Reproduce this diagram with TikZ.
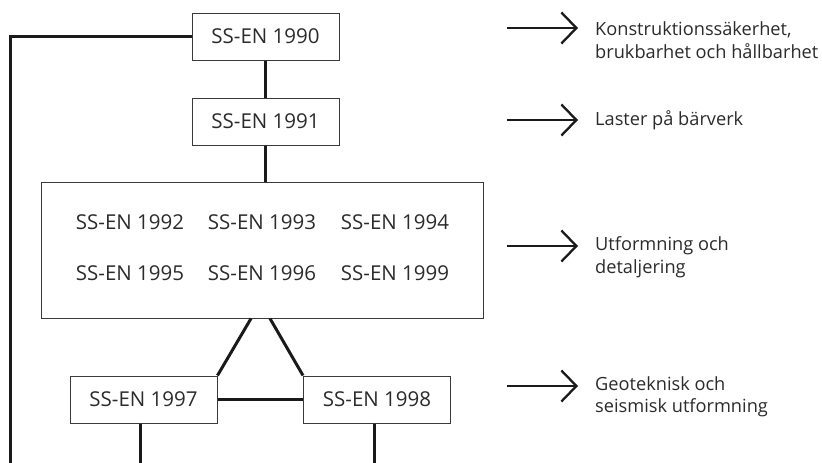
\documentclass[tikz,border=0pt]{standalone}
\usepackage{fontspec}
\setmainfont{Open Sans}
\usetikzlibrary{arrows.meta}
\definecolor{txtc}{HTML}{2B2B2B}
\definecolor{boxc}{HTML}{3A3A3A}
\definecolor{linec}{HTML}{1A1A1A}
\begin{document}
\begin{tikzpicture}[x=1pt,y=-1pt,
  box/.style={draw=boxc, line width=1pt, minimum width=147pt, minimum height=47pt, inner sep=0pt, text=txtc, font=\fontsize{20.5}{24}\selectfont},
  bigbox/.style={draw=boxc, line width=1pt, minimum width=442pt, minimum height=136pt, inner sep=0pt},
  code/.style={inner sep=0pt, text=txtc, font=\fontsize{20.5}{24}\selectfont},
  conn/.style={line width=3pt, draw=linec},
  arr/.style={line width=2.3pt, draw=linec, -{Straight Barb[length=15pt,width=31pt]}},
  desc/.style={anchor=west, align=left, inner sep=0pt, text=txtc, font=\fontsize{18.2}{22.5}\selectfont}]
\useasboundingbox (0,0) rectangle (822,463);

% boxes
\node[box] (b1990) at (265.5,36.5) {SS-EN 1990};
\node[box] (b1991) at (265.5,121.5) {SS-EN 1991};
\node[bigbox] (big) at (262,250) {};
\node[code] (t1992) at (130,222) {SS-EN 1992};
\node[code] (t1993) at (262,222) {SS-EN 1993};
\node[code] (t1994) at (395,222) {SS-EN 1994};
\node[code] (t1995) at (130,273) {SS-EN 1995};
\node[code] (t1996) at (262,273) {SS-EN 1996};
\node[code] (t1999) at (395,273) {SS-EN 1999};
\node[box] (b1997) at (143.5,399.5) {SS-EN 1997};
\node[box] (b1998) at (377,399.5) {SS-EN 1998};

% connectors
\coordinate (leftend) at (10,463);
\draw[conn] (b1990.west) -| (leftend);
\draw[conn] (b1990.south) -- (b1991.north);
\draw[conn] (b1991.south) -- (b1991.south |- big.north);
\draw[conn] ([xshift=-11pt]big.south) -- (b1997.north east);
\draw[conn] ([xshift=8pt]big.south) -- (b1998.north west);
\draw[conn] (b1997) -- (b1998);
\coordinate (e1997) at (140,463);
\coordinate (e1998) at (374,463);
\draw[conn] (b1997.south -| e1997) -- (e1997);
\draw[conn] (b1998.south -| e1998) -- (e1998);

% arrows and descriptions
\coordinate (a1s) at (507,28);  \coordinate (a1e) at (578,28);
\coordinate (a2s) at (507,120); \coordinate (a2e) at (578,120);
\coordinate (a3s) at (507,246); \coordinate (a3e) at (578,246);
\coordinate (a4s) at (507,386); \coordinate (a4e) at (578,386);
\draw[arr] (a1s) -- (a1e);
\draw[arr] (a2s) -- (a2e);
\draw[arr] (a3s) -- (a3e);
\draw[arr] (a4s) -- (a4e);
\node[desc] (d1) at (595,40) {Konstruktionssäkerhet,\\brukbarhet och hållbarhet};
\node[desc] (d2) at (595,120) {Laster på bärverk};
\node[desc] (d3) at (595,257) {Utformning och\\detaljering};
\node[desc] (d4) at (595,397) {Geoteknisk och\\seismisk utformning};
\end{tikzpicture}
\end{document}
